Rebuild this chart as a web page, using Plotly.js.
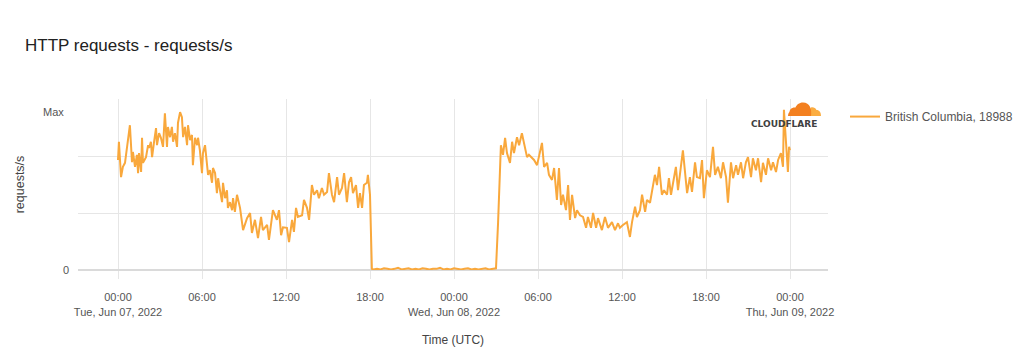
<!DOCTYPE html>
<html>
<head>
<meta charset="utf-8">
<script src="https://cdn.plot.ly/plotly-3.0.1.min.js"></script>
<style>html,body{margin:0;padding:0;background:#fff;}#chart{width:1020px;height:360px;}</style>
</head>
<body>
<div id="chart"></div>
<script>
// ---- data ----
var seriesName = 'British Columbia, 18988';
var startTime = Date.UTC(2022, 5, 7, 0, 0, 0); // Tue, Jun 07, 2022 00:00 UTC
// minutes since start
var offsetMinutes = [
  0,4,13,21,30,39,43,51,60,64,73,81,86,90,99,103,107,120,129,133,
  141,146,154,163,167,176,184,193,201,210,214,223,231,236,244,253,257,266,274,279,
  287,296,300,309,317,321,330,339,343,351,360,364,373,381,386,394,403,407,416,424,
  429,437,446,450,459,467,471,480,489,493,501,510,523,536,553,566,574,587,600,613,
  621,639,647,664,681,690,699,707,724,733,746,754,763,771,789,797,810,819,831,840,
  853,861,874,883,896,904,917,926,939,947,960,969,981,990,999,1007,1020,1029,1037,1046,
  1054,1067,1071,1080,1088,
  1095,1110,1125,1140,1155,1170,1185,1200,1215,1230,1245,1260,1275,1290,1305,1320,1335,1350,
  1365,1380,1395,1410,1425,1440,1455,1470,1485,1500,1515,1530,1545,1560,1575,1590,1605,1620,
  1629,1641,1650,1659,1667,1680,1689,1697,1710,1719,1731,1740,1753,1761,1774,1783,1796,1804,1817,1826,
  1839,1847,1860,1869,1881,1890,1899,1907,1920,1929,1937,1946,1959,1967,1980,1993,2006,2014,2027,2036,
  2049,2057,2074,2087,2100,2117,2130,2143,2151,2164,2181,2194,2203,2216,2224,2237,2246,2259,2267,2280,
  2293,2301,2310,2319,2331,2340,2353,2361,2370,2379,2391,2400,2413,2421,2430,2439,2451,2460,2473,2481,
  2494,2503,2511,2524,2537,2550,2559,2571,2584,2593,2606,2614,2627,2636,2649,2657,2670,2679,2691,2700,
  2713,2721,2734,2743,2756,2764,2777,2786,2799,2807,2820,2829,2841,2850,2854,2863,2871,2876,2880
];
var requestsPerSec = [
  193,225,163,181,188,216,219,254,189,207,181,202,170,205,172,232,188,198,219,214,
  225,198,223,249,219,240,232,216,275,216,251,233,251,225,240,216,258,277,268,233,
  251,219,254,228,237,184,232,219,232,210,170,205,219,193,167,175,153,179,170,135,
  161,140,119,153,126,140,109,119,105,126,102,132,109,70,91,100,65,88,56,93,
  70,79,53,105,88,105,61,75,74,49,88,67,109,93,96,123,109,88,149,132,
  140,126,144,132,137,170,132,119,163,132,144,170,119,154,163,135,149,109,135,109,
  149,153,167,132,2,
  1,2,1,3,2,1,2,4,1,2,3,1,2,1,3,2,1,2,
  2,4,1,2,1,3,2,1,2,3,1,2,1,2,3,1,2,3,
  84,219,202,232,205,188,225,205,233,219,240,225,198,202,196,193,184,198,223,181,
  188,167,158,179,123,179,114,132,105,149,88,132,91,105,96,93,74,93,74,100,
  74,91,70,93,74,84,70,82,74,79,84,58,84,111,93,105,132,102,123,118,
  149,167,149,181,132,140,132,161,132,154,181,140,181,210,172,135,163,137,189,163,
  161,193,126,175,163,216,167,181,161,189,163,118,189,161,184,167,189,161,189,198,
  163,196,175,196,154,188,167,196,175,189,172,193,205,181,281,219,172,216,210
];
var tickTimes = ['2022-06-07 00:00','2022-06-07 06:00','2022-06-07 12:00','2022-06-07 18:00',
                 '2022-06-08 00:00','2022-06-08 06:00','2022-06-08 12:00','2022-06-08 18:00','2022-06-09 00:00'];
var tickLabels = ['00:00<br>Tue, Jun 07, 2022','06:00','12:00','18:00',
                  '00:00<br>Wed, Jun 08, 2022','06:00','12:00','18:00','00:00<br>Thu, Jun 09, 2022'];
var yGridVals = [0, 100, 200];
var yGridText = ['0', '', ''];
var maxValue = Math.max.apply(null, requestsPerSec);

// ---- build ----
function pad(n){return (n<10?'0':'')+n;}
function fmt(ms){var d=new Date(ms);return d.getUTCFullYear()+'-'+pad(d.getUTCMonth()+1)+'-'+pad(d.getUTCDate())+' '+pad(d.getUTCHours())+':'+pad(d.getUTCMinutes())+':'+pad(d.getUTCSeconds());}
var times = offsetMinutes.map(function(m){return fmt(startTime + m*60000);});

var trace = {
  type:'scatter', mode:'lines', x: times, y: requestsPerSec, name: seriesName,
  line:{color:'#F9A83C', width:2}, hoverinfo:'x+y'
};

// logo decoration helpers (page pixels -> paper fractions)
function px2X(px){return (px-78)/750;}
function py2Y(py){return (270-py)/171;}
function logoPath(cmds){
  return cmds.map(function(c){
    var s = c[0];
    for (var i=1;i<c.length;i+=2){ s += (i>1?' ':'') + px2X(c[i]).toFixed(5) + ',' + py2Y(c[i+1]).toFixed(5); }
    return s;
  }).join(' ') + ' Z';
}
var lightCloud = logoPath([
  ['M',808,116],['L',821,116],['C',821,112.5,819.5,110,816.5,110],['C',815.5,108,813.5,107,811,107.5],['L',806,116]
]);
var darkCloud = logoPath([
  ['M',788,116],['L',811,116],['C',812,109,810,102.5,803,102.5],['C',799,102.5,796.5,105,795.5,107.5],
  ['C',792,107,789.5,109.5,789.5,112],['C',788.5,113,788,114.5,788,116]
]);

var FONT = '"Liberation Sans", Arial, Helvetica, sans-serif';
var layout = {
  width:1020, height:360,
  margin:{l:78, r:192, t:99, b:90, autoexpand:false},
  paper_bgcolor:'#ffffff', plot_bgcolor:'#ffffff',
  font:{family:FONT, size:11, color:'#555555'},
  title:{text:'HTTP requests - requests/s', xref:'container', yref:'container',
         x:25/1020, xanchor:'left', y:1-45/360, yanchor:'middle',
         font:{family:FONT, size:17, color:'#222222'}},
  xaxis:{type:'date', range:['2022-06-06 21:08:34','2022-06-09 02:42:51'],
         tickmode:'array', tickvals:tickTimes, ticktext:tickLabels,
         showgrid:true, gridcolor:'#e6e6e6', gridwidth:1,
         ticks:'outside', ticklen:8, tickcolor:'#e6e6e6', tickwidth:1,
         showline:false, zeroline:false, ticklabelstandoff:9,
         tickfont:{family:FONT, size:11, color:'#555555'},
         title:{text:'Time (UTC)', standoff:19, font:{family:FONT, size:12, color:'#444444'}}},
  yaxis:{range:[0,300], tickmode:'array', tickvals:yGridVals, ticktext:yGridText,
         showgrid:true, gridcolor:'#e6e6e6', gridwidth:1,
         zeroline:true, zerolinecolor:'#dadada', zerolinewidth:2,
         ticks:'', showline:false, ticklabelstandoff:8,
         tickfont:{family:FONT, size:11, color:'#555555'},
         title:{text:'requests/s', standoff:35, font:{family:FONT, size:12.5, color:'#444444'}}},
  showlegend:true,
  legend:{x:1.0227, xanchor:'left', y:0.982, yanchor:'top', bgcolor:'rgba(0,0,0,0)',
          font:{family:FONT, size:12, color:'#555555'}},
  annotations:[
    {xref:'paper', yref:'y', x:0, y:maxValue, xanchor:'right', yanchor:'middle', xshift:-12, yshift:-2,
     text:'Max', showarrow:false, font:{family:FONT, size:11, color:'#555555'}},
    {xref:'paper', yref:'paper', x:px2X(784), y:py2Y(124), xanchor:'center', yanchor:'middle',
     text:'<b>CLOUDFLARE</b>', showarrow:false, font:{family:'"DejaVu Sans", sans-serif', size:9, color:'#404041'}}
  ],
  shapes:[
    {type:'path', xref:'paper', yref:'paper', path:lightCloud, fillcolor:'#FBAD41', line:{width:0}, layer:'above'},
    {type:'path', xref:'paper', yref:'paper', path:darkCloud, fillcolor:'#F38020', line:{width:0}, layer:'above'}
  ]
};

Plotly.newPlot('chart', [trace], layout, {displayModeBar:false, staticPlot:true});
</script>
</body>
</html>
